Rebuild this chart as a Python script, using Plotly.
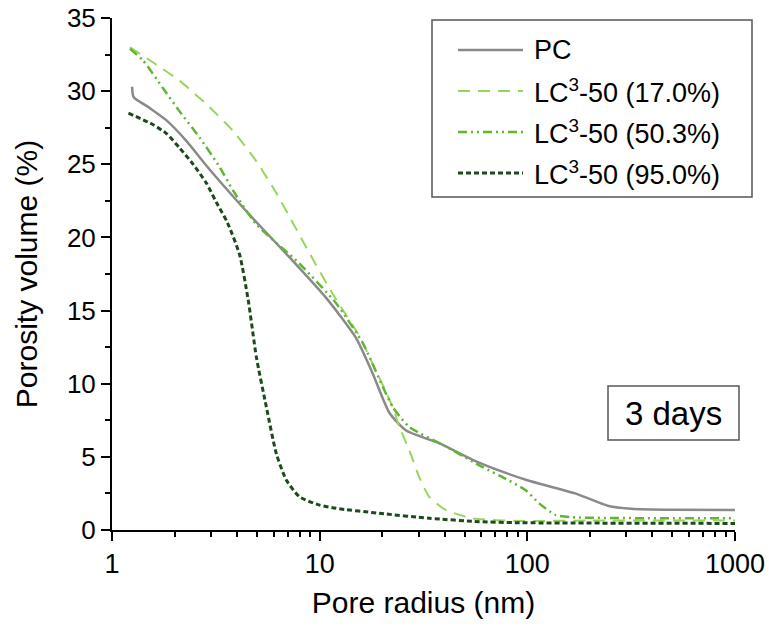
import plotly.graph_objects as go

# ---- data ----
pc_x = [1.25, 1.27, 1.5, 1.83, 2.28, 2.85, 3.83, 4.77, 7.2, 10.7, 15.0, 18.0, 21.7, 26.1, 38, 54.5, 78.8, 100, 170, 246, 318, 500, 1000]
pc_y = [30.3, 29.6, 28.9, 28.0, 26.6, 24.9, 22.8, 21.3, 18.6, 15.9, 13.1, 10.7, 8.0, 6.8, 5.9, 4.8, 3.9, 3.4, 2.5, 1.64, 1.45, 1.38, 1.36]

lc17_x = [1.22, 1.64, 2.12, 2.85, 3.82, 4.96, 6.2, 8.95, 11.6, 15.6, 17.4, 22.5, 24.2, 27.0, 30.2, 33.7, 40.6, 54.5, 91.5, 200, 1000]
lc17_y = [33.0, 31.8, 30.7, 29.1, 27.3, 25.2, 23.0, 18.9, 16.1, 13.2, 11.8, 8.4, 7.05, 5.46, 3.6, 2.27, 1.36, 0.8, 0.62, 0.65, 0.65]

lc50_x = [1.22, 1.41, 1.76, 2.12, 2.65, 3.3, 3.83, 4.96, 8.0, 12.0, 16.1, 17.4, 22.5, 27.0, 40.6, 60.9, 78.8, 98.5, 114, 137, 165, 1000]
lc50_y = [32.9, 32.1, 30.2, 28.6, 26.8, 24.8, 23.2, 20.9, 18.2, 15.5, 12.8, 11.8, 8.4, 7.05, 5.7, 4.3, 3.5, 2.7, 1.82, 1.02, 0.87, 0.8]

lc95_x = [1.2, 1.58, 1.83, 2.12, 2.46, 2.85, 3.18, 3.6, 4.12, 4.53, 4.96, 5.54, 6.19, 6.92, 8.0, 10, 12, 19.4, 33.7, 58.6, 88, 1000]
lc95_y = [28.5, 27.7, 27.1, 26.1, 25.0, 23.7, 22.4, 21.0, 18.8, 15.7, 11.8, 8.4, 5.2, 3.4, 2.27, 1.7, 1.48, 1.14, 0.8, 0.57, 0.5, 0.45]

series_names = ["PC", "LC<sup>3</sup>-50 (17.0%)", "LC<sup>3</sup>-50 (50.3%)", "LC<sup>3</sup>-50 (95.0%)"]
x_title = "Pore radius (nm)"
y_title = "Porosity volume (%)"
label_text = "3 days"

# ---- styles ----
colors = ["#8a8a8a", "#97d65a", "#62b531", "#1d4a1d"]
dashes = ["solid", "12px,8px", "9px,4px,2px,4px,2px,4px", "5px,3px"]
widths = [2.5, 2.0, 2.5, 3.0]
FONT = "Liberation Sans, Arial, sans-serif"

fig = go.Figure()
for xs, ys, c, d, w, n in zip([pc_x, lc17_x, lc50_x, lc95_x], [pc_y, lc17_y, lc50_y, lc95_y],
                              colors, dashes, widths, series_names):
    fig.add_trace(go.Scatter(x=xs, y=ys, mode="lines", name=n, showlegend=False,
                             line=dict(color=c, dash=d, width=w, shape="spline", smoothing=0.6)))

# plot area in page pixels (body margin removed by post_script)
W, H = 769, 627
L, R, T, B = 112, 735, 18, 530
def px(xp):
    return (xp - L) / (R - L)
def py(yp):
    return (B - yp) / (B - T)

shapes = []
annotations = []
# manual legend
shapes.append(dict(type="rect", xref="paper", yref="paper", x0=px(432), x1=px(752), y0=py(197), y1=py(20),
                   line=dict(color="#555555", width=1.5), fillcolor="white", layer="above"))
rows = [50, 91, 132, 173]
for row, c, d, w, n in zip(rows, colors, dashes, widths, series_names):
    shapes.append(dict(type="line", xref="paper", yref="paper", x0=px(458), x1=px(523), y0=py(row), y1=py(row),
                       line=dict(color=c, dash=d, width=w), layer="above"))
    annotations.append(dict(xref="paper", yref="paper", x=px(532), y=py(row), text=n, showarrow=False,
                            xanchor="left", yanchor="middle", font=dict(family=FONT, size=27, color="black")))
# "3 days" box
shapes.append(dict(type="rect", xref="paper", yref="paper", x0=px(608), x1=px(739), y0=py(440), y1=py(386),
                   line=dict(color="#555555", width=1.5), fillcolor="white", layer="above"))
annotations.append(dict(xref="paper", yref="paper", x=px(673.5), y=py(413), text=label_text, showarrow=False,
                        xanchor="center", yanchor="middle", font=dict(family=FONT, size=33, color="black")))

fig.update_layout(
    width=W, height=H,
    margin=dict(l=L, r=W - R, t=T, b=H - B),
    paper_bgcolor="white", plot_bgcolor="white",
    font=dict(family=FONT, size=26, color="black"),
    shapes=shapes, annotations=annotations,
    xaxis=dict(type="log", range=[0, 3], showgrid=False, zeroline=False, automargin=False,
               showline=True, linecolor="black", linewidth=2, ticklabeloverflow="allow",
               ticks="outside", ticklen=9, tickwidth=2, tickcolor="black",
               tickvals=[1, 10, 100, 1000], ticktext=["1", "10", "100", "1000"],
               tickfont=dict(size=27),
               minor=dict(ticks="outside", ticklen=5, tickwidth=2, tickcolor="black",
                          tickvals=[2, 3, 4, 5, 6, 7, 8, 9, 20, 30, 40, 50, 60, 70, 80, 90,
                                    200, 300, 400, 500, 600, 700, 800, 900], showgrid=False),
               title=dict(text=x_title, font=dict(size=30), standoff=14)),
    yaxis=dict(range=[0, 35], showgrid=False, zeroline=False, automargin=False,
               showline=True, linecolor="black", linewidth=2, ticklabeloverflow="allow",
               ticks="outside", ticklen=9, tickwidth=2, tickcolor="black",
               dtick=5, tick0=0, tickfont=dict(size=26),
               minor=dict(ticks="outside", ticklen=5, tickwidth=2, tickcolor="black", dtick=2.5, showgrid=False),
               title=dict(text=y_title, font=dict(size=30), standoff=20)),
)

fig.write_html("out.html", config={"displayModeBar": False},
               post_script="document.body.style.margin='0';document.body.style.overflow='hidden';")
